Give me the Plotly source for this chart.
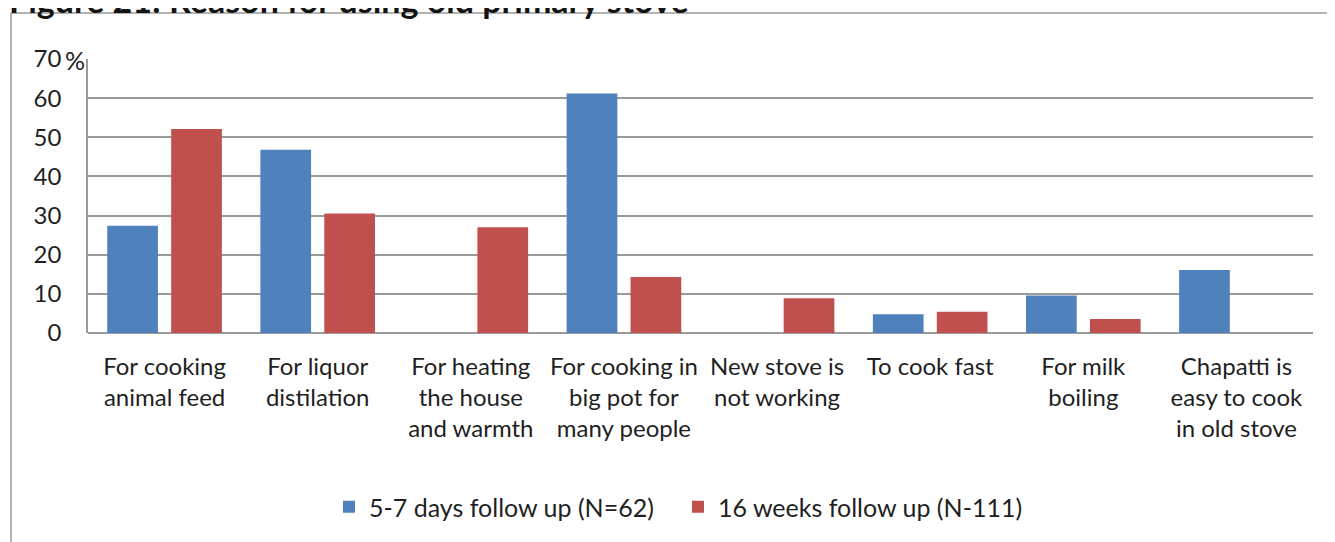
import plotly.graph_objects as go

categories = [
    "For cooking<br>animal feed",
    "For liquor<br>distilation",
    "For heating<br>the house<br>and warmth",
    "For cooking in<br>big pot for<br>many people",
    "New stove is<br>not working",
    "To cook fast",
    "For milk<br>boiling",
    "Chapatti is<br>easy to cook<br>in old stove",
]
series_names = ["5-7 days follow up (N=62)", "16 weeks follow up (N-111)"]
days_5_7 = [27.4, 46.8, None, 61.2, None, 4.8, 9.6, 16.1]
weeks_16 = [52.1, 30.5, 27.0, 14.3, 8.9, 5.4, 3.6, None]
y_ticks = [0, 10, 20, 30, 40, 50, 60, 70]
title_text = "Figure 21: Reason for using old primary stove"

# page body has an 8px margin: work in screen pixels and convert
OFF = 8
W, H = 1335, 542
ML, MR, MT, MB = 88 - OFF, 30, 59 - OFF, 542 - (333 - OFF)
PW, PH = W - ML - MR, H - MT - MB

def px_x(p):
    return (p - OFF - ML) / PW

def px_y(p):
    return (H - MB - (p - OFF)) / PH

FONT = "Lato, Carlito, Calibri, sans-serif"
TXT = "#1f1f1f"
GRID = "#9a9a9a"

fig = go.Figure()
fig.add_trace(go.Bar(x=categories, y=days_5_7, name=series_names[0],
                     marker=dict(color="#4F81BD", line=dict(width=0))))
fig.add_trace(go.Bar(x=categories, y=weeks_16, name=series_names[1],
                     marker=dict(color="#C0504D", line=dict(width=0))))

fig.update_layout(
    width=W, height=H,
    margin=dict(l=ML, r=MR, t=MT, b=MB),
    paper_bgcolor="white", plot_bgcolor="white",
    barmode="group", bargap=0.165, bargroupgap=0.207,
    font=dict(family=FONT, size=24, color=TXT),
    showlegend=True,
    legend=dict(orientation="h", x=px_x(329), xanchor="left",
                y=px_y(507), yanchor="middle",
                font=dict(size=25, family=FONT, color=TXT),
                entrywidth=304, entrywidthmode="pixels",
                itemclick=False, bgcolor="rgba(0,0,0,0)"),
    xaxis=dict(showline=False, showgrid=False, ticks="",
               tickfont=dict(size=24, family=FONT, color=TXT),
               fixedrange=True, ticklabelstandoff=17),
    yaxis=dict(range=[0, 70], tickvals=y_ticks,
               ticktext=[str(v) for v in y_ticks],
               showgrid=True, gridcolor=GRID, gridwidth=1.5,
               showline=True, linecolor=GRID, linewidth=1.5,
               zeroline=True, zerolinecolor=GRID, zerolinewidth=1.5,
               ticks="", tickfont=dict(size=24, family=FONT, color=TXT),
               ticklabelstandoff=20, fixedrange=True),
    shapes=[
        dict(type="line", xref="paper", yref="paper",
             x0=px_x(11), x1=px_x(1345), y0=px_y(13), y1=px_y(13),
             line=dict(color=GRID, width=1.5)),
        dict(type="line", xref="paper", yref="paper",
             x0=px_x(11), x1=px_x(11), y0=px_y(13), y1=px_y(560),
             line=dict(color=GRID, width=1.5)),
    ],
    annotations=[
        dict(text="%", xref="paper", yref="paper", x=px_x(87), y=px_y(60),
             xanchor="right", yanchor="middle", showarrow=False,
             font=dict(size=25, family=FONT, color=TXT)),
        dict(text="<b>" + title_text + "</b>", xref="paper", yref="paper",
             x=px_x(7), y=px_y(-1), xanchor="left", yanchor="middle",
             showarrow=False, font=dict(size=34, family=FONT, color="#141414")),
    ],
)

fig.write_html("out.html")
